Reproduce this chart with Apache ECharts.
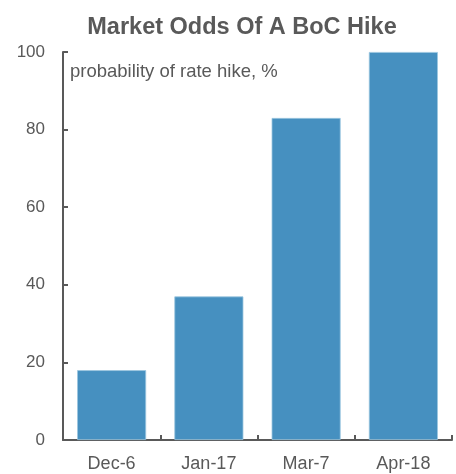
<!DOCTYPE html>
<html><head><meta charset="utf-8">
<script src="https://cdn.jsdelivr.net/npm/echarts@6/dist/echarts.min.js"></script>
<style>html,body{margin:0;padding:0;background:#fff}#c{width:456px;height:474px}</style>
</head><body><div id="c"></div>
<script>
const categories = ['Dec-6', 'Jan-17', 'Mar-7', 'Apr-18'];
const values = [18, 37, 83, 100];
const yTicks = [0, 20, 40, 60, 80, 100];

const chart = echarts.init(document.getElementById('c'));
const gray = '#595959';
chart.setOption({
  animation: false,
  title: {
    text: 'Market Odds Of A BoC Hike',
    left: 237, top: 11, textAlign: 'center',
    textStyle: { fontFamily: 'Liberation Sans, Arial', fontSize: 23.5, fontWeight: 'bold', color: gray }
  },
  grid: { left: 63, right: 4, top: 52, bottom: 34 },
  xAxis: {
    type: 'category', data: categories,
    axisLine: { lineStyle: { color: gray, width: 2 } },
    axisTick: { show: true, inside: true, length: 5, lineStyle: { color: gray, width: 2 } },
    axisLabel: { color: gray, fontSize: 18, fontFamily: 'Liberation Sans, Arial', margin: 15 }
  },
  yAxis: {
    type: 'value', min: yTicks[0], max: yTicks[yTicks.length - 1], interval: 20,
    axisLine: { show: true, lineStyle: { color: gray, width: 2 } },
    axisTick: { show: true, inside: true, length: 5, lineStyle: { color: gray, width: 2 } },
    splitLine: { show: false },
    axisLabel: { color: gray, fontSize: 17, fontFamily: 'Liberation Sans, Arial', margin: 18 }
  },
  graphic: [{
    type: 'text', left: 70, top: 62,
    style: { text: 'probability of rate hike, %', fill: gray, fontSize: 18.5, fontFamily: 'Liberation Sans, Arial' }
  }],
  series: [{
    type: 'bar', data: values, barCategoryGap: '29%',
    itemStyle: { color: '#4690c0', borderColor: '#9cc6e0', borderWidth: 0.8 }
  }]
});
</script></body></html>
